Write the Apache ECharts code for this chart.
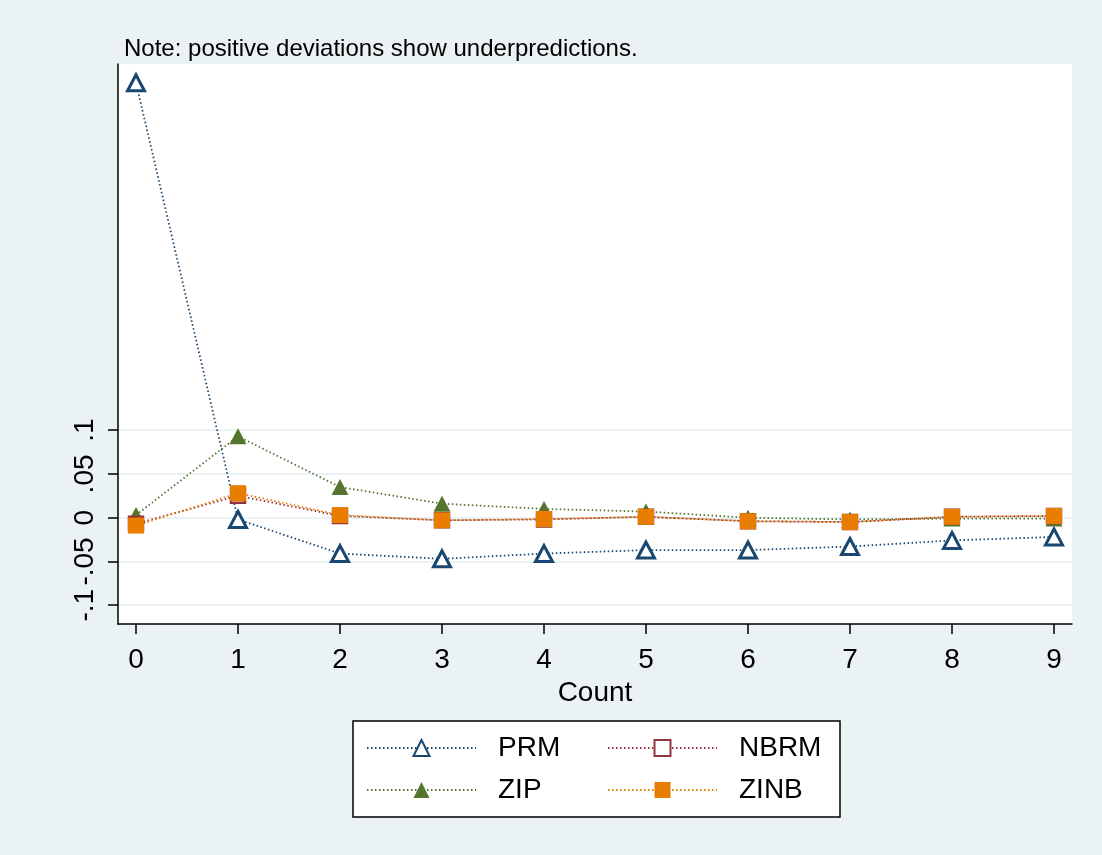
<!DOCTYPE html>
<html>
<head>
<meta charset="utf-8">
<script src="https://cdn.jsdelivr.net/npm/echarts@6/dist/echarts.min.js"></script>
<style>
  html, body { margin: 0; padding: 0; background: #eaf2f3; }
  #chart { width: 1102px; height: 855px; }
</style>
</head>
<body>
<div id="chart"></div>
<script>
// Observed minus predicted probability by count, for four count models
const counts = [0, 1, 2, 3, 4, 5, 6, 7, 8, 9];
const prm  = [0.497, -0.002, -0.041, -0.047, -0.041, -0.037, -0.037, -0.033, -0.026, -0.022];
const nbrm = [-0.007, 0.025, 0.002, -0.003, -0.002, 0.001, -0.004, -0.005, 0.001, 0.002];
const zip  = [0.003, 0.093, 0.035, 0.016, 0.010, 0.007, 0.000, -0.002, -0.001, -0.001];
const zinb = [-0.009, 0.028, 0.003, -0.003, -0.0015, 0.001, -0.004, -0.005, 0.001, 0.002];
const yTicks = [-0.1, -0.05, 0, 0.05, 0.1];
const xTicks = counts;

const FONT = 'Liberation Sans, Arial, sans-serif';
const BG = '#eaf2f3';
const colors = { PRM: '#1a476f', NBRM: '#90353b', ZIP: '#55752f', ZINB: '#e87d00' };

function pairs(vals) { return counts.map((c, i) => [c, vals[i]]); }
function fmtY(v) {
  const r = Math.round(v * 1000) / 1000;
  if (r === 0) return '0';
  return String(r).replace('0.', '.');
}
const dots = [1.5, 2.5];

const chart = echarts.init(document.getElementById('chart'), null, { renderer: 'canvas' });
chart.setOption({
  backgroundColor: BG,
  animation: false,
  textStyle: { fontFamily: FONT },
  title: {
    text: 'Note: positive deviations show underpredictions.',
    left: 124, top: 37,
    padding: 0,
    textStyle: { fontFamily: FONT, fontSize: 24, fontWeight: 'normal', color: '#000' }
  },
  grid: {
    left: 118, right: 30, top: 64, bottom: 231,
    show: true, backgroundColor: '#fff', borderWidth: 0
  },
  xAxis: {
    type: 'value',
    min: -0.1765, max: 9.1765,
    name: 'Count', nameLocation: 'middle', nameGap: 51,
    nameTextStyle: { fontFamily: FONT, fontSize: 28, color: '#000' },
    axisLine: { show: true, onZero: false, lineStyle: { color: '#000', width: 1.5 } },
    axisTick: { show: true, length: 10, customValues: xTicks, lineStyle: { color: '#000', width: 1.5 } },
    axisLabel: { customValues: xTicks, fontFamily: FONT, fontSize: 28, color: '#000', margin: 22 },
    splitLine: { show: false }
  },
  yAxis: {
    type: 'value',
    min: -0.1215, max: 0.5185,
    axisLine: { show: true, onZero: false, lineStyle: { color: '#000', width: 1.5 } },
    axisTick: { show: true, length: 10, customValues: yTicks, lineStyle: { color: '#000', width: 1.5 } },
    axisLabel: {
      customValues: yTicks, rotate: 90, fontFamily: FONT, fontSize: 28, color: '#000',
      margin: 19, formatter: fmtY
    },
    splitLine: { show: true, lineStyle: { color: BG, width: 2 } }
  },
  legend: {
    data: ['PRM', 'NBRM', 'ZIP', 'ZINB'],
    left: 353, top: 721,
    width: 480,
    orient: 'horizontal',
    padding: [13, 6, 13, 13],
    itemGap: 14,
    itemWidth: 109, itemHeight: 20,
    backgroundColor: '#fff',
    borderColor: '#000', borderWidth: 1.5,
    textStyle: {
      fontFamily: FONT, fontSize: 28, color: '#000',
      width: 95, lineHeight: 28, padding: [0, 0, 0, 17]
    }
  },
  series: [
    {
      name: 'PRM', type: 'line', data: pairs(prm),
      symbol: 'triangle', symbolSize: [17, 16],
      itemStyle: { color: '#fff', borderColor: colors.PRM, borderWidth: 3 },
      lineStyle: { color: colors.PRM, width: 1.8, type: dots }
    },
    {
      name: 'ZIP', type: 'line', data: pairs(zip),
      symbol: 'triangle', symbolSize: [17, 16],
      itemStyle: { color: colors.ZIP },
      lineStyle: { color: colors.ZIP, width: 1.8, type: dots }
    },
    {
      name: 'NBRM', type: 'line', data: pairs(nbrm),
      symbol: 'rect', symbolSize: 14,
      itemStyle: { color: '#fff', borderColor: colors.NBRM, borderWidth: 2.5 },
      lineStyle: { color: colors.NBRM, width: 1.8, type: dots }
    },
    {
      name: 'ZINB', type: 'line', data: pairs(zinb),
      symbol: 'rect', symbolSize: 16,
      itemStyle: { color: colors.ZINB },
      lineStyle: { color: colors.ZINB, width: 1.8, type: dots }
    }
  ]
});
</script>
</body>
</html>
